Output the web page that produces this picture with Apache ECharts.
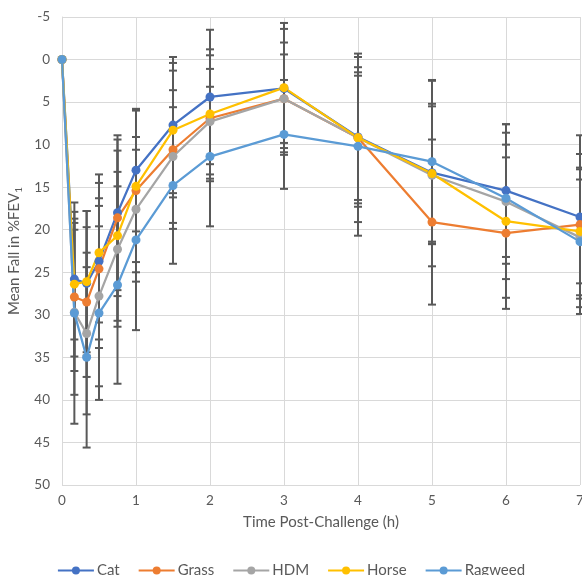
<!DOCTYPE html>
<html><head><meta charset="utf-8">
<script src="https://cdn.jsdelivr.net/npm/echarts@6/dist/echarts.min.js"></script>
<style>html,body{margin:0;padding:0;background:#fff;overflow:hidden}#c{width:100vw;height:100vh}</style>
</head><body><div id="c"></div>
<script>
// Time points (h)
const times = [0, 0.167, 0.333, 0.5, 0.75, 1, 1.5, 2, 3, 4, 5, 6, 7];
// Mean fall in %FEV1
const cat     = [0, 25.8, 26.3, 23.7, 18.0, 13.0, 7.7, 4.4, 3.4, 9.1, 13.3, 15.4, 18.5];
const grass   = [0, 27.9, 28.5, 24.6, 18.6, 15.4, 10.6, 6.9, 4.6, 9.2, 19.1, 20.4, 19.4];
const hdm     = [0, 29.7, 32.2, 27.8, 22.3, 17.6, 11.4, 7.3, 4.6, 9.2, 13.6, 16.7, 20.9];
const horse   = [0, 26.4, 26.1, 22.7, 20.7, 14.9, 8.3, 6.4, 3.3, 9.2, 13.4, 19.0, 20.2];
const ragweed = [0, 29.8, 35.0, 29.8, 26.5, 21.2, 14.8, 11.4, 8.8, 10.2, 12.0, 16.3, 21.4];
// Error bar half-lengths
const catSd     = [0, 7.1, 8.5, 10.2, 9.1, 7.2, 8.0, 7.9, 7.0, 8.2, 8.1, 7.8, 9.6];
const grassSd   = [0, 8.7, 8.8, 8.3, 9.2, 9.6, 9.3, 7.4, 6.6, 9.9, 9.7, 8.9, 8.3];
const hdmSd     = [0, 9.7, 9.5, 10.6, 9.1, 8.5, 7.8, 6.2, 5.2, 7.3, 8.1, 9.1, 8.2];
const horseSd   = [0, 8.5, 8.3, 8.2, 10.0, 8.9, 7.9, 7.6, 7.6, 7.7, 10.9, 9.0, 6.1];
const ragweedSd = [0, 13.0, 10.6, 10.2, 11.6, 10.6, 9.2, 8.2, 6.4, 10.5, 9.6, 7.7, 8.5];

const names  = ['Cat', 'Grass', 'HDM', 'Horse', 'Ragweed'];
const colors = ['#4472C4', '#ED7D31', '#A5A5A5', '#FFC000', '#5B9BD5'];
const means  = [cat, grass, hdm, horse, ragweed];
const sds    = [catSd, grassSd, hdmSd, horseSd, ragweedSd];

const FONT = 'Lato';
const TXT = '#595959';

function errSeries(i) {
  return {
    type: 'custom', name: names[i] + ' error', z: 1, silent: true, clip: false,
    data: times.map((t, k) => [t, means[i][k] - sds[i][k], means[i][k] + sds[i][k]]),
    encode: { x: 0, y: [1, 2] },
    renderItem(params, api) {
      const lo = api.coord([api.value(0), api.value(1)]);
      const hi = api.coord([api.value(0), api.value(2)]);
      if (Math.abs(lo[1] - hi[1]) < 0.5) return null;
      const w = 4, st = { stroke: '#595959', lineWidth: 2 };
      return { type: 'group', children: [
        { type: 'line', shape: { x1: lo[0], y1: lo[1], x2: hi[0], y2: hi[1] }, style: st },
        { type: 'line', shape: { x1: lo[0] - w, y1: lo[1], x2: lo[0] + w, y2: lo[1] }, style: st },
        { type: 'line', shape: { x1: hi[0] - w, y1: hi[1], x2: hi[0] + w, y2: hi[1] }, style: st }
      ]};
    }
  };
}
function lineSeries(i) {
  return {
    type: 'line', name: names[i], z: 3,
    data: times.map((t, k) => [t, means[i][k]]),
    symbol: 'circle', symbolSize: 9, showSymbol: true,
    lineStyle: { color: colors[i], width: 2.25 },
    itemStyle: { color: colors[i] },
    emphasis: { disabled: true }
  };
}

const series = [];
for (let i = 0; i < 5; i++) series.push(errSeries(i));
for (let i = 0; i < 5; i++) series.push(lineSeries(i));

const chart = echarts.init(document.getElementById('c'));
chart.setOption({
  animation: false,
  backgroundColor: '#fff',
  color: colors,
  grid: { left: 62, right: 2, top: 17, bottom: 90, containLabel: false, outerBoundsMode: 'none' },
  xAxis: {
    type: 'value', min: 0, max: 7, interval: 1,
    name: 'Time Post-Challenge (h)', nameLocation: 'middle', nameGap: 30,
    nameTextStyle: { color: TXT, fontSize: 15, fontFamily: FONT },
    axisLine: { show: true, lineStyle: { color: '#d9d9d9', width: 1 } },
    axisTick: { show: false },
    axisLabel: { color: TXT, fontSize: 13.5, fontFamily: FONT, margin: 9 },
    splitLine: { show: true, lineStyle: { color: '#d9d9d9', width: 1 } }
  },
  yAxis: {
    type: 'value', inverse: true, min: -5, max: 50, interval: 5,
    name: 'Mean Fall in %FEV{sub|1}', nameLocation: 'middle', nameGap: 32,
    nameTextStyle: { color: TXT, fontSize: 15, fontFamily: FONT,
      rich: { sub: { fontSize: 10, verticalAlign: 'bottom', color: TXT, fontFamily: FONT, padding: [8, 0, 0, 0] } } },
    axisLine: { show: true, lineStyle: { color: '#d9d9d9', width: 1 } },
    axisTick: { show: false },
    axisLabel: { color: TXT, fontSize: 13.5, fontFamily: FONT, margin: 12 },
    splitLine: { show: true, lineStyle: { color: '#d9d9d9', width: 1 } }
  },
  legend: {
    data: names, top: 558, left: 'center', itemWidth: 36, itemHeight: 10, itemGap: 18,
    textStyle: { color: TXT, fontSize: 15, fontFamily: FONT, padding: [0, 0, 0, -2] }
  },
  series
});
</script></body></html>
